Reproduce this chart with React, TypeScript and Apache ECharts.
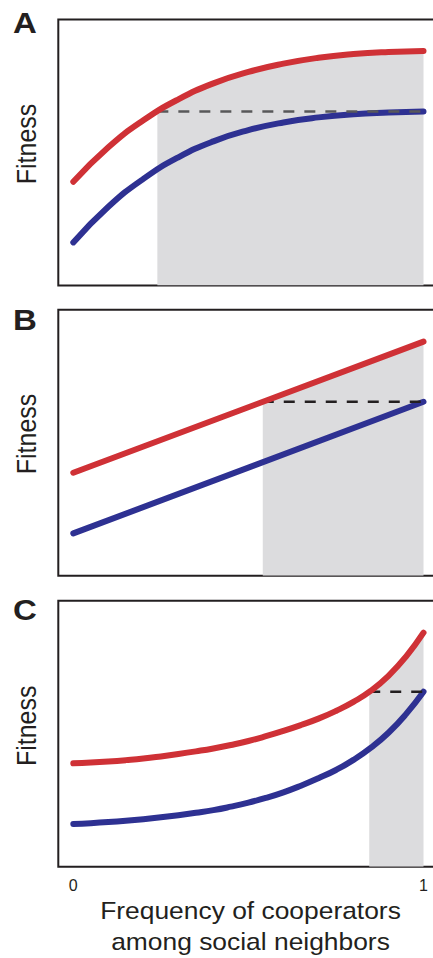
import React, { useEffect, useRef } from "react";
import * as echarts from "echarts";

// ---------- data (x = frequency of cooperators, y = fitness, arbitrary 0–100) ----------
const xA = [0, 0.1, 0.2, 0.3, 0.4, 0.5, 0.6, 0.7, 0.8, 0.9, 1];
const redA = [39.0, 52.0, 62.1, 70.0, 76.0, 80.3, 83.4, 85.6, 87.0, 87.8, 88.2];
const blueA = [16.2, 29.6, 40.1, 48.2, 54.2, 58.4, 61.3, 63.2, 64.4, 65.0, 65.4];
const thresholdA = 0.24;
const thresholdRedA = 65.4;

const xB = [0, 1];
const redB = [38.7, 88.0];
const blueB = [15.9, 65.4];
const thresholdB = 0.541;
const thresholdRedB = 65.4;

const xC = [0, 0.05, 0.1, 0.15, 0.2, 0.25, 0.3, 0.35, 0.4, 0.45, 0.5, 0.55, 0.6, 0.65, 0.7, 0.75, 0.8, 0.85, 0.9, 0.95, 1];
const redC = [38.9, 39.2, 39.6, 40.1, 40.7, 41.5, 42.4, 43.4, 44.5, 45.8, 47.3, 49.1, 51.1, 53.3, 55.7, 58.6, 62.0, 66.2, 71.8, 79.0, 88.0];
const blueC = [16.1, 16.4, 16.8, 17.3, 17.9, 18.6, 19.4, 20.3, 21.3, 22.6, 24.1, 25.9, 28.0, 30.5, 33.3, 36.4, 40.2, 44.8, 50.4, 57.4, 65.8];
const thresholdC = 0.845;
const thresholdRedC = 65.8;

const panelLetters = ["A", "B", "C"];
const xTickValues = [0, 1];
const yLabel = "Fitness";
const xTitleLines = ["Frequency of cooperators", "among social neighbors"];

// ---------- style / layout ----------
const FONT = '"Liberation Sans", Arial, Helvetica, sans-serif';
const RED = "#cf3136";
const BLUE = "#2e3192";
const SHADE = "#dcdcde";
const INK = "#231f20";
const DASH_COLORS = ["#58585a", INK, INK];
const GRID_TOPS = [19.5, 309.7, 600.8];
const GRID_LEFT = 58.3;
const GRID_WIDTH = 381.7;
const GRID_HEIGHT = 266;
const X_MIN = -0.04283;
const X_MAX = 1.0471;
const CHART_W = 450;
const CHART_H = 958;

const panels = [
  { x: xA, red: redA, blue: blueA, th: thresholdA, thRed: thresholdRedA, smooth: 0.5 },
  { x: xB, red: redB, blue: blueB, th: thresholdB, thRed: thresholdRedB, smooth: false },
  { x: xC, red: redC, blue: blueC, th: thresholdC, thRed: thresholdRedC, smooth: 0.5 },
];

function buildOption() {
  const series: any[] = [];
  panels.forEach((p, i) => {
    const red = p.x.map((x, k) => [x, p.red[k]]);
    const blue = p.x.map((x, k) => [x, p.blue[k]]);
    const shade = [[p.th, p.thRed], ...red.filter((d) => d[0] > p.th + 0.01)];
    const blueEnd = p.blue[p.blue.length - 1];
    const common = {
      type: "line",
      xAxisIndex: i,
      yAxisIndex: i,
      symbol: "none",
      showSymbol: false,
      silent: true,
      smooth: p.smooth,
    };
    series.push({
      ...common,
      data: shade,
      lineStyle: { width: 0, opacity: 0 },
      areaStyle: { color: SHADE, opacity: 1, origin: "start" },
      z: 1,
    });
    series.push({
      ...common,
      data: blue,
      lineStyle: { color: BLUE, width: 6, cap: "round", join: "round" },
      z: 3,
    });
    series.push({
      ...common,
      smooth: false,
      data: [
        [p.th, blueEnd],
        [1, blueEnd],
      ],
      lineStyle: { color: DASH_COLORS[i], width: 2.5, type: [11, 10] },
      z: 4,
    });
    series.push({
      ...common,
      data: red,
      lineStyle: { color: RED, width: 6, cap: "round", join: "round" },
      z: 5,
    });
  });

  const graphic: any[] = [];
  const letterY = [22.5, 320, 610];
  const fitY = [144, 434, 725.8];
  panelLetters.forEach((L, i) => {
    graphic.push({
      type: "text",
      x: 25,
      y: letterY[i],
      scaleX: 1.1,
      silent: true,
      style: {
        text: L,
        fill: INK,
        fontFamily: FONT,
        fontSize: 30,
        fontWeight: "bold",
        align: "center",
        verticalAlign: "middle",
        textAlign: "center",
        textVerticalAlign: "middle",
      },
    });
    graphic.push({
      type: "text",
      x: 26.5,
      y: fitY[i],
      rotation: Math.PI / 2,
      scaleY: 1.1,
      silent: true,
      style: {
        text: yLabel,
        fill: INK,
        fontFamily: FONT,
        fontSize: 25,
        align: "center",
        verticalAlign: "middle",
        textAlign: "center",
        textVerticalAlign: "middle",
      },
    });
  });
  const titleY = [910, 941.7];
  xTitleLines.forEach((t, k) => {
    graphic.push({
      type: "text",
      x: 250.5,
      y: titleY[k],
      scaleX: 1.1,
      silent: true,
      style: {
        text: t,
        fill: INK,
        fontFamily: FONT,
        fontSize: 24,
        align: "center",
        verticalAlign: "middle",
        textAlign: "center",
        textVerticalAlign: "middle",
      },
    });
  });

  return {
    animation: false,
    backgroundColor: "#ffffff",
    grid: GRID_TOPS.map((top) => ({
      left: GRID_LEFT,
      top,
      width: GRID_WIDTH,
      height: GRID_HEIGHT,
      show: true,
      borderColor: INK,
      borderWidth: 2,
      backgroundColor: "transparent",
    })),
    xAxis: GRID_TOPS.map((_, i) => ({
      gridIndex: i,
      type: "value",
      min: X_MIN,
      max: X_MAX,
      axisLine: { show: false },
      axisTick: { show: false },
      splitLine: { show: false },
      axisLabel:
        i === 2
          ? {
              show: true,
              customValues: xTickValues,
              formatter: (v: number) => String(v),
              color: INK,
              fontFamily: FONT,
              fontSize: 16,
              margin: 11,
            }
          : { show: false },
    })),
    yAxis: GRID_TOPS.map((_, i) => ({
      gridIndex: i,
      type: "value",
      min: 0,
      max: 100,
      axisLine: { show: false },
      axisTick: { show: false },
      splitLine: { show: false },
      axisLabel: { show: false },
    })),
    series,
    graphic,
  };
}

export default function App() {
  const ref = useRef<HTMLDivElement>(null);
  useEffect(() => {
    if (!ref.current) return;
    const chart = echarts.init(ref.current, null, { renderer: "svg" });
    chart.setOption(buildOption() as any);
    return () => chart.dispose();
  }, []);
  return (
    <div style={{ position: "absolute", left: 0, top: 0, width: 433, height: 958, overflow: "hidden", background: "#fff" }}>
      <div ref={ref} style={{ width: CHART_W, height: CHART_H }} />
    </div>
  );
}
